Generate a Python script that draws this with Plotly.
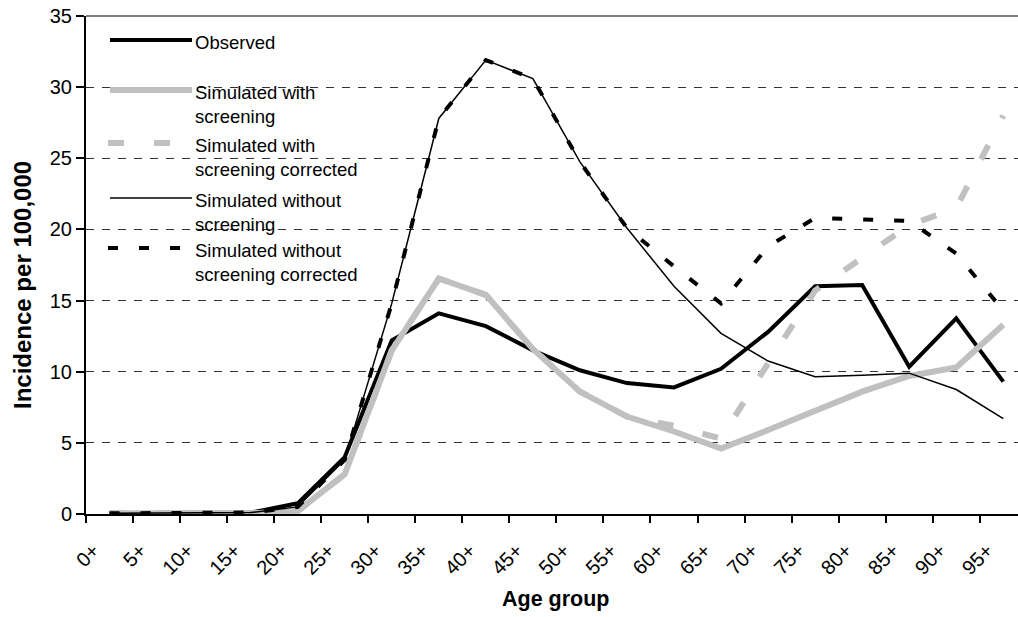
import plotly.graph_objects as go

# ---------------- data ----------------
age_groups = ["0+", "5+", "10+", "15+", "20+", "25+", "30+", "35+", "40+", "45+",
              "50+", "55+", "60+", "65+", "70+", "75+", "80+", "85+", "90+", "95+"]

observed = [0.05, 0.05, 0.05, 0.1, 0.75, 4.0, 12.2, 14.1, 13.2, 11.5,
            10.1, 9.2, 8.9, 10.2, 12.8, 16.0, 16.1, 10.35, 13.75, 9.3]
sim_with = [0.05, 0.05, 0.05, 0.05, 0.2, 2.8, 11.5, 16.55, 15.4, 11.6,
            8.6, 6.85, 5.8, 4.6, 5.9, 7.3, 8.6, 9.7, 10.3, 13.3]
sim_with_corr = [0.05, 0.05, 0.05, 0.05, 0.2, 2.8, 11.5, 16.55, 15.4, 11.6,
                 8.6, 6.85, 6.2, 5.3, 10.6, 15.7, 18.0, 20.3, 21.5, 28.0]
sim_without = [0.05, 0.05, 0.05, 0.1, 0.5, 3.8, 14.8, 27.8, 31.9, 30.6,
               24.75, 20.1, 16.0, 12.7, 10.75, 9.65, 9.75, 9.9, 8.75, 6.7]
sim_without_corr = [0.05, 0.05, 0.05, 0.1, 0.5, 3.8, 14.8, 27.8, 31.9, 30.6,
                    24.75, 20.1, 17.4, 14.8, 18.8, 20.8, 20.7, 20.6, 18.3, 14.3]

y_ticks = [0, 5, 10, 15, 20, 25, 30, 35]

series_names = ["Observed", "Simulated with screening", "Simulated with screening corrected",
                "Simulated without screening", "Simulated without screening corrected"]
legend_labels = ["Observed", "Simulated with<br>screening", "Simulated with<br>screening corrected",
                 "Simulated without<br>screening", "Simulated without<br>screening corrected"]

# ---------------- styles ----------------
FONT = "Liberation Sans, Arial, sans-serif"
GRAY = "#c0c0c0"
styles = [
    dict(color="black", width=4, dash="solid"),
    dict(color=GRAY, width=6, dash="solid"),
    dict(color=GRAY, width=6, dash="16px,30px"),
    dict(color="black", width=1.5, dash="solid"),
    dict(color="black", width=4, dash="10px,21px"),
]
series_values = [observed, sim_with, sim_with_corr, sim_without, sim_without_corr]

fig = go.Figure()
for name, vals, st in zip(series_names, series_values, styles):
    fig.add_trace(go.Scatter(x=age_groups, y=vals, mode="lines", name=name,
                             line=dict(color=st["color"], width=st["width"], dash=st["dash"]),
                             showlegend=False, hoverinfo="skip"))

# plot geometry (pixels)
L, R, T, B = 86, 1018, 16, 514
W, H = R - L, B - T


def px_x(px):
    return (px - L) / W


def px_y(py):
    return (B - py) / H


shapes = []
annotations = []

# white legend box covering gridlines
shapes.append(dict(type="rect", xref="paper", yref="paper", layer="between",
                   x0=0.002, x1=px_x(377), y0=px_y(297), y1=px_y(18),
                   fillcolor="white", line=dict(width=0)))
# top border
shapes.append(dict(type="line", xref="paper", yref="paper", layer="above",
                   x0=0, x1=1, y0=1, y1=1, line=dict(color="#808080", width=2)))

# custom legend
legend_line_y = [40, 90, 143, 198, 248]
for lab, st, ly in zip(legend_labels, styles, legend_line_y):
    x0 = 108 if st["dash"] != "solid" else 110
    shapes.append(dict(type="line", xref="paper", yref="paper", layer="above",
                       x0=px_x(x0), x1=px_x(192), y0=px_y(ly), y1=px_y(ly),
                       line=dict(color=st["color"], width=st["width"], dash=st["dash"])))
    annotations.append(dict(xref="paper", yref="paper", x=px_x(193), y=px_y(ly - 10),
                            xanchor="left", yanchor="top", align="left", showarrow=False,
                            text=lab, font=dict(family=FONT, size=18.5, color="black")))

# axis titles
annotations.append(dict(xref="paper", yref="paper", x=px_x(556), y=px_y(599),
                        xanchor="center", yanchor="middle", showarrow=False,
                        text="<b>Age group</b>", font=dict(family=FONT, size=21.5, color="black")))
annotations.append(dict(xref="paper", yref="paper", x=px_x(22), y=px_y(285),
                        xanchor="center", yanchor="middle", showarrow=False, textangle=-90,
                        text="<b>Incidence per 100,000</b>", font=dict(family=FONT, size=24, color="black")))

n_visible = W / 47.04
fig.update_layout(
    width=1018, height=617,
    margin=dict(l=L, r=1018 - R, t=T, b=617 - B, autoexpand=False),
    paper_bgcolor="white", plot_bgcolor="white",
    font=dict(family=FONT, size=19, color="black"),
    shapes=shapes, annotations=annotations,
    showlegend=False,
    xaxis=dict(type="category", categoryorder="array", categoryarray=age_groups,
               range=[-0.5, -0.5 + n_visible], tickson="boundaries",
               ticks="outside", ticklen=7, tickwidth=1.5, tickcolor="black",
               showline=True, linecolor="black", linewidth=2,
               showgrid=False, zeroline=False, tickangle=-45,
               ticklabelshift=-16, ticklabelstandoff=15,
               tickfont=dict(family=FONT, size=20, color="black"), automargin=False),
    yaxis=dict(range=[0, 35], tickvals=y_ticks, ticks="outside", ticklen=8, tickwidth=1.5,
               tickcolor="black", showline=True, linecolor="black", linewidth=2,
               showgrid=True, gridcolor="#333333", gridwidth=1, griddash="8px,8px",
               zeroline=False, tickfont=dict(family=FONT, size=20, color="black"),
               automargin=False),
)

fig.write_html("out.html", config={"displayModeBar": False},
               post_script="document.body.style.margin='0px';document.body.style.overflow='hidden';")
